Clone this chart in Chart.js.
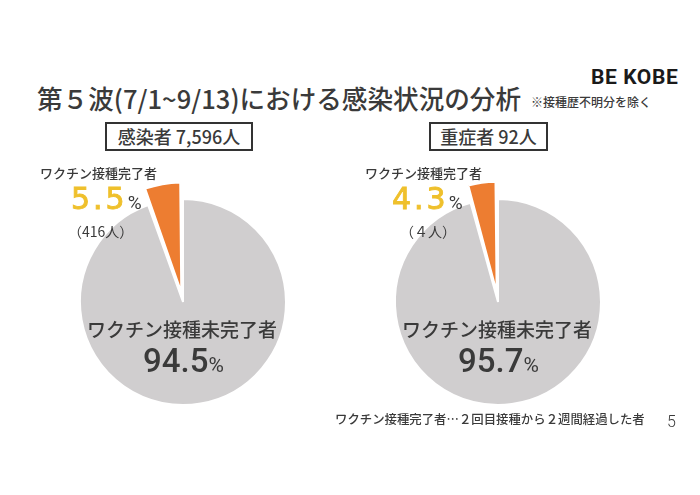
<!DOCTYPE html>
<html lang="ja">
<head>
<meta charset="utf-8">
<script src="https://cdn.jsdelivr.net/npm/chart.js@4/dist/chart.umd.min.js"></script>
<style>
  body { margin: 0; width: 700px; height: 495px; background: #fff; position: relative; overflow: hidden;
         font-family: "Noto Sans CJK JP", "Noto Sans", sans-serif; color: #3a3a3a; }
  .abs { position: absolute; white-space: nowrap; line-height: 1; }
  .pie { position: absolute; width: 248px; height: 248px; }
  .box { position: absolute; border: 2px solid #333; font-size: 18px; font-weight: 500; text-align: center;
         line-height: 24px; box-sizing: border-box; height: 29px; }
  .big { color: #efc02c; font-family: "DejaVu Sans", sans-serif; font-size: 30px; letter-spacing: 3px;
         -webkit-text-stroke: 0.9px #efc02c; }
  .pct { font-size: 19px; color: #3a3a3a; font-family: Roboto, sans-serif; }
  .in { font-family: Roboto, sans-serif; font-weight: 500; font-size: 33px; }
  .in small { font-size: 21px; font-weight: 400; }
  .lbl { z-index: 2; }
</style>
</head>
<body>
<div class="abs" style="left:37px;top:85px;font-size:25.6px;font-weight:500;">第５波(7/1~9/13)における感染状況の分析</div>
<div class="abs" style="left:531px;top:96px;font-size:12px;font-weight:500;">※接種歴不明分を除く</div>
<div class="abs" style="left:591px;top:67px;font-size:21px;font-weight:700;font-family:Roboto,sans-serif;color:#1a1a1a;letter-spacing:0.6px;">BE KOBE</div>

<div class="pie" style="left:59px;top:178px;"><canvas id="pieCases" width="248" height="248"></canvas></div>
<div class="pie" style="left:374px;top:178px;"><canvas id="pieSevere" width="248" height="248"></canvas></div>

<div id="labels"></div>

<div class="abs" style="left:335px;top:413px;font-size:12.4px;font-weight:500;">ワクチン接種完了者…２回目接種から２週間経過した者</div>
<div class="abs" style="left:667px;top:414px;font-size:16px;font-family:Roboto,sans-serif;font-weight:300;">5</div>

<script>
const categories = ["ワクチン接種未完了者", "ワクチン接種完了者"];
const casesShares = [94.5, 5.5];
const severeShares = [95.7, 4.3];
const casesTotal = "感染者 7,596人";
const severeTotal = "重症者 92人";
const casesDone = "（416人）";
const severeDone = "（４人）";

const colours = ["#d0cecf", "#ed7d31"];

function makePie(id, values) {
  new Chart(document.getElementById(id).getContext("2d"), {
    type: "pie",
    data: {
      labels: categories,
      datasets: [{
        data: values,
        backgroundColor: colours,
        borderColor: "#ffffff",
        borderWidth: 2,
        offset: [0, 40],
      }],
    },
    options: {
      responsive: false,
      animation: false,
      plugins: { legend: { display: false }, tooltip: { enabled: false } },
    },
  });
}

makePie("pieCases", casesShares);
makePie("pieSevere", severeShares);

// text placed around each pie
function addLabels(x, totalText, boxW, shares, doneText, pos) {
  const wrap = document.getElementById("labels");
  const html = `
    <div class="box" style="left:${pos.boxX}px;top:122px;width:${boxW}px;">${totalText}</div>
    <div class="abs lbl" style="left:${pos.doneX}px;top:166px;font-size:13px;font-weight:500;">${categories[1]}</div>
    <div class="abs lbl" style="left:${pos.bigX}px;top:184px;"><span class="big">${shares[1]}</span><span class="pct">%</span></div>
    <div class="abs lbl" style="left:${pos.cntX}px;top:224px;font-size:14px;">${doneText}</div>
    <div class="abs lbl" style="left:${x - 96}px;top:319px;font-size:19px;font-weight:500;">${categories[0]}</div>
    <div class="abs lbl in" style="left:${x - 40}px;top:344px;">${shares[0]}<small>%</small></div>`;
  wrap.insertAdjacentHTML("beforeend", html);
}

addLabels(183, casesTotal, 148, casesShares, casesDone, { boxX: 105, doneX: 40, bigX: 71, cntX: 68 });
addLabels(498, severeTotal, 119, severeShares, severeDone, { boxX: 429, doneX: 365, bigX: 392, cntX: 400 });
</script>
</body>
</html>
